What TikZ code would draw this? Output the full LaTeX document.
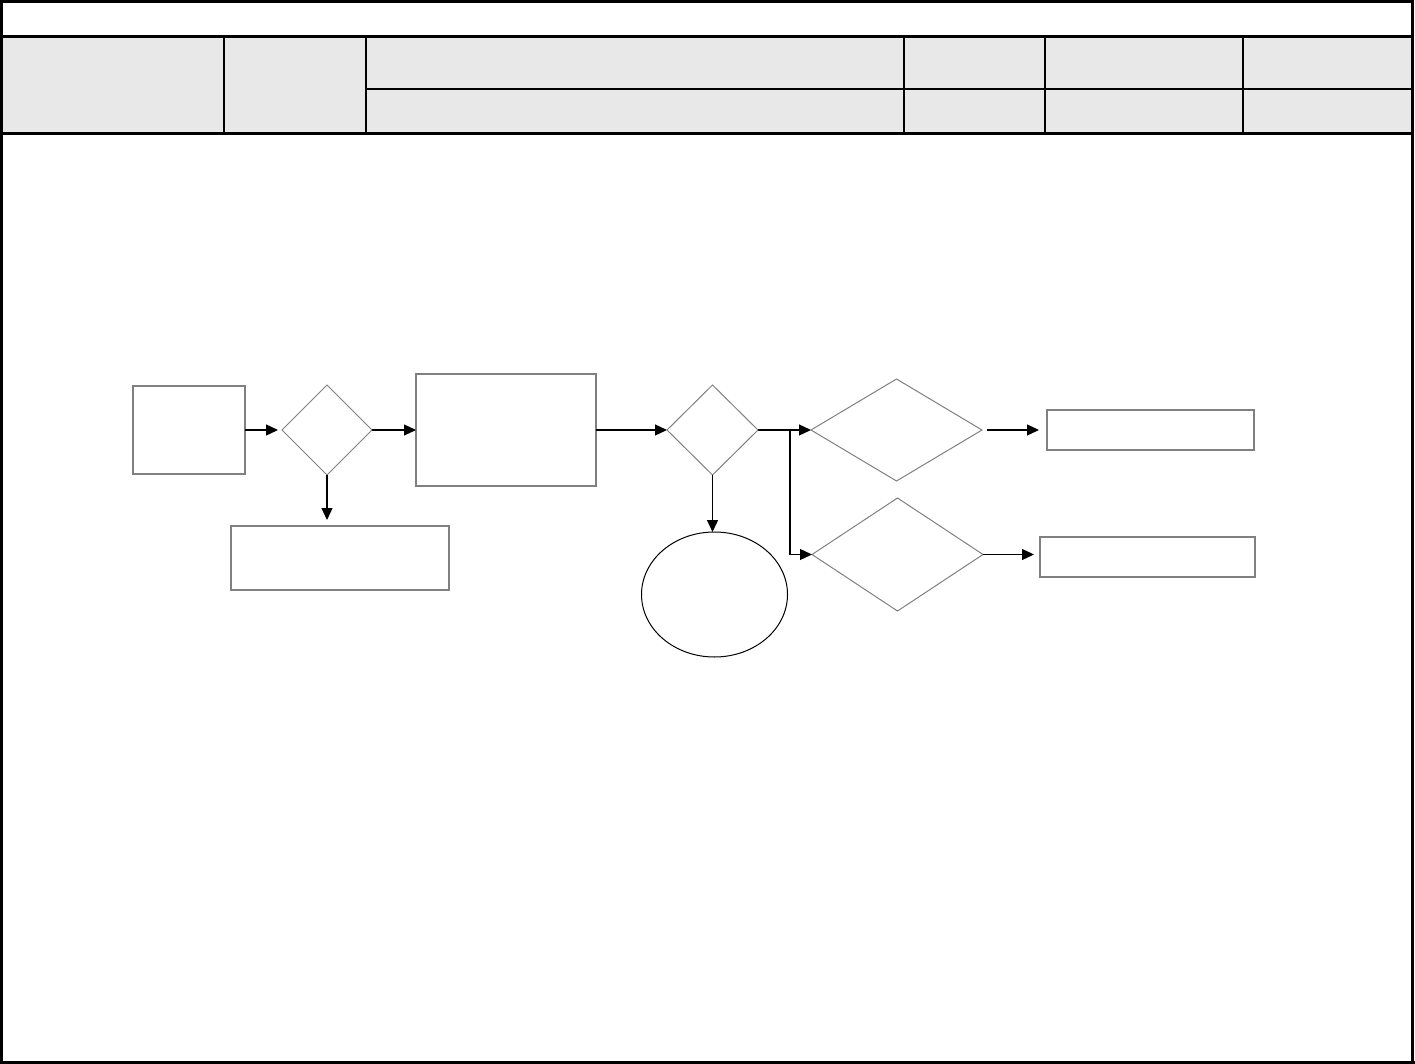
\documentclass[tikz,border=0pt]{standalone}
\usepackage{tikz}
\usetikzlibrary{arrows.meta,positioning,shapes.geometric}
\definecolor{edgegray}{HTML}{808080}
\definecolor{headfill}{HTML}{E8E8E8}
\tikzset{
  procbox/.style={draw=edgegray, line width=1.3pt, rectangle, inner sep=0pt, outer sep=0pt},
  decide/.style={draw=edgegray, line width=1pt, diamond, inner sep=0pt, outer sep=0pt},
  endcircle/.style={draw=black, line width=1pt, ellipse, inner sep=0pt, outer sep=0pt},
  arr/.style={-{Triangle[length=12pt, width=11pt]}, line width=1.3pt, draw=black},
  rule/.style={line width=3pt, draw=black},
  thinrule/.style={line width=1.5pt, draw=black}
}
\begin{document}
\begin{tikzpicture}[x=1pt, y=-1pt]
  \useasboundingbox (0,0) rectangle (1415,1064);
  \fill[headfill] (2,37) rectangle (1412,133);
  \draw[thinrule] (224,37) -- (224,134) (366,37) -- (366,134)
    (904,37) -- (904,134) (1045,37) -- (1045,134) (1243,37) -- (1243,134)
    (366,89) -- (1412,89);
  \draw[rule] (0,1.5) -- (1412,1.5) (0,37) -- (1412,37) (0,134) -- (1412,134);
  \draw[rule] (1.5,0) -- (1.5,1064) (1412.5,0) -- (1412.5,1064) (0,1062.5) -- (1415,1062.5);

  \node[procbox, minimum width=112pt, minimum height=88pt] (start) at (189,430) {};
  \node[decide, minimum width=90pt, minimum height=90pt, right=37pt of start] (check) {};
  \node[procbox, minimum width=180pt, minimum height=112pt, right=44pt of check] (work) {};
  \node[procbox, minimum width=218pt, minimum height=64pt] (reject) at (340,558) {};
  \node[decide, minimum width=91pt, minimum height=90pt, right=71pt of work] (review) {};
  \node[endcircle, minimum width=146pt, minimum height=125pt] (finish) at (714.5,594.5) {};
  \node[decide, minimum width=171pt, minimum height=102pt, right=53pt of review] (upper) {};
  \node[decide, minimum width=171pt, minimum height=113pt] (lower) at (897.5,554.5) {};
  \node[procbox, minimum width=207pt, minimum height=40pt, right=65pt of upper] (outa) {};
  \node[procbox, minimum width=215pt, minimum height=40pt] (outb) at (1147.5,557) {};
  \coordinate (fork) at (790,430);

  \draw[arr, shorten >=4pt] (start) -- (check);
  \draw[arr] (check) -- (work);
  \draw[arr, shorten >=6pt] (check.south) -- (check.south |- reject.north);
  \draw[arr] (work) -- (review);
  \draw[arr] (review.south) -- (review.south |- finish.north);
  \draw[arr] (review) -- (upper);
  \draw[arr] (fork) |- (lower.west);
  \draw[arr, shorten <=5pt, shorten >=8pt] (upper) -- (outa);
  \draw[arr, shorten >=6pt] (lower.east) -- (lower.east -| outb.west);
\end{tikzpicture}
\end{document}
